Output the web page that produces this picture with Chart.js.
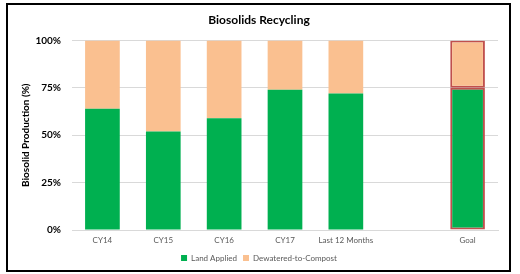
<!DOCTYPE html>
<html>
<head>
<meta charset="utf-8">
<script src="https://cdn.jsdelivr.net/npm/chart.js@4/dist/chart.umd.min.js"></script>
<style>
  html, body { margin: 0; padding: 0; background: #fff; }
  #wrap { position: relative; width: 520px; height: 274px; }
  #frame { position: absolute; left: 6px; top: 3px; width: 501px; height: 265px; border: 2px solid #000; pointer-events: none; }
  canvas { position: absolute; left: 0; top: 0; }
</style>
</head>
<body>
<div id="wrap">
  <canvas id="c" width="520" height="274"></canvas>
  <div id="frame"></div>
</div>
<script>
const categories = ['CY14', 'CY15', 'CY16', 'CY17', 'Last 12 Months', '', 'Goal'];
const landApplied = [64, 52, 59, 74, 72, null, 75];
const dewateredToCompost = [36, 48, 41, 26, 28, null, 25];
const yTicks = [0, 25, 50, 75, 100];

const FONT = 'Lato, "Liberation Sans", sans-serif';
const goalIndex = categories.indexOf('Goal');
const borderFor = (ctx) => ctx.dataIndex === goalIndex ? '#C0504D' : 'rgba(0,0,0,0)';
const widthFor = (ctx) => ctx.dataIndex === goalIndex ? 2 : 0;

new Chart(document.getElementById('c'), {
  type: 'bar',
  data: {
    labels: categories,
    datasets: [
      { label: 'Land Applied', data: landApplied, backgroundColor: '#00B050',
        borderColor: borderFor, borderWidth: widthFor, borderSkipped: false,
        categoryPercentage: 0.57, barPercentage: 1 },
      { label: 'Dewatered-to-Compost', data: dewateredToCompost, backgroundColor: '#FAC090',
        borderColor: borderFor, borderWidth: widthFor, borderSkipped: false,
        categoryPercentage: 0.57, barPercentage: 1 }
    ]
  },
  options: {
    responsive: false,
    animation: false,
    layout: { padding: { left: 20, right: 22, top: 0, bottom: 2 } },
    plugins: {
      title: { display: true, text: 'Biosolids Recycling', color: '#000',
        font: { family: FONT, size: 12, weight: 'bold' }, padding: { top: 13, bottom: 13 } },
      legend: { position: 'bottom',
        labels: { color: '#595959', font: { family: FONT, size: 8 }, boxWidth: 6, boxHeight: 6, padding: 6 } },
      tooltip: { enabled: false }
    },
    scales: {
      x: {
        stacked: true,
        grid: { display: false, drawTicks: false },
        border: { display: true, color: '#d9d9d9', width: 1 },
        ticks: { color: '#595959', font: { family: FONT, size: 8 }, padding: 6, maxRotation: 0, autoSkip: false },
        afterFit: (s) => { s.height = 18; }
      },
      y: {
        stacked: true,
        min: 0, max: 100,
        afterBuildTicks: (s) => { s.ticks = yTicks.map(v => ({ value: v })); },
        grid: { color: '#d9d9d9', drawTicks: false },
        border: { display: false },
        ticks: { color: '#000', font: { family: FONT, size: 10, weight: 'bold' }, padding: 11,
          callback: (v) => v + '%' },
        title: { display: true, text: 'Biosolid Production (%)', color: '#000',
          font: { family: FONT, size: 10, weight: 'bold' }, padding: { top: 0, bottom: 0 } },
        afterFit: (s) => { s.width = 52; }
      }
    }
  }
});
</script>
</body>
</html>
